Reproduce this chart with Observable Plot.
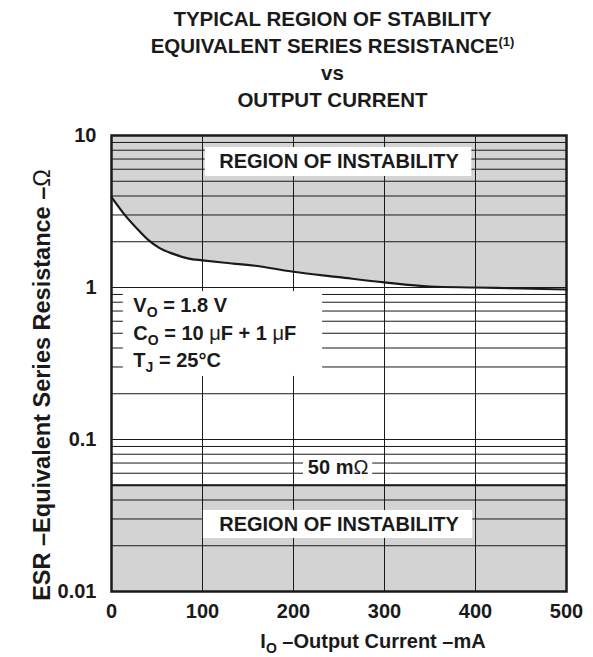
<!DOCTYPE html>
<html><head><meta charset="utf-8">
<script src="https://cdn.jsdelivr.net/npm/d3@7"></script>
<script src="https://cdn.jsdelivr.net/npm/@observablehq/plot@0.6"></script>
<style>
body{margin:0;background:#fff;font-family:"Liberation Sans",Arial,sans-serif;color:#1a1a1a}
#wrap{position:relative;width:593px;height:657px;overflow:hidden}
#title{position:absolute;left:0;top:5px;width:593px;box-sizing:border-box;padding-left:72px;text-align:center;font-weight:bold;font-size:20.5px;line-height:27px}
#title sup{font-size:13px;vertical-align:7px;line-height:0}
#chart{position:absolute;left:0;top:120px}
#ytitle{position:absolute;left:42px;top:385px;transform:translate(-50%,-50%) rotate(-90deg);white-space:nowrap;font-weight:bold;font-size:23.5px}
#xtitle{position:absolute;left:373px;top:641px;transform:translate(-50%,-50%);white-space:nowrap;font-weight:bold;font-size:20px}
#xtitle sub{font-size:14px;vertical-align:-5px;line-height:0}
.thin{font-weight:normal}
</style></head>
<body>
<div id="wrap">
  <div id="title">TYPICAL REGION OF STABILITY<br>EQUIVALENT SERIES RESISTANCE<sup>(1)</sup><br>vs<br>OUTPUT CURRENT</div>
  <div id="chart"></div>
  <div id="ytitle">ESR –Equivalent Series Resistance –<span class="thin">Ω</span></div>
  <div id="xtitle">I<sub>O</sub> –Output Current –mA</div>
</div>
<script>
// ---- data ----
const currentMA = [0, 15, 30, 41, 52, 67, 85, 100, 122, 158, 200, 250, 300, 350, 400, 450, 500];
const esrOhm    = [3.93, 2.98, 2.37, 2.04, 1.83, 1.67, 1.55, 1.51, 1.46, 1.39, 1.27, 1.17, 1.08, 1.015, 1.0, 0.985, 0.97];
const esrMinOhm = 0.05;             // 50 mΩ lower stability boundary
const xDomain = [0, 500];
const yDomain = [0.01, 10];
const xTicks = [0, 100, 200, 300, 400, 500];
const yTicks = [0.01, 0.1, 1, 10];
const xGrid = [100, 200, 300, 400];
const yGrid = [0.02,0.03,0.04,0.05,0.06,0.07,0.08,0.09,0.1,0.2,0.3,0.4,0.5,0.6,0.7,0.8,0.9,1,2,3,4,5,6,7,8,9];

// annotation texts (anchor in data units: mA, Ω)
const regionText = ["REGION OF INSTABILITY", "REGION OF INSTABILITY", "50 mΩ"];
const regionX    = [250, 250, 249];
const regionY    = [6.7, 0.0276, 0.0655];
const condText   = ["V_O = 1.8 V", "C_O = 10 μF + 1 μF", "T_J = 25°C"];
const condX      = [24, 24, 24];
const condY      = [0.76, 0.50, 0.33];
// white label boxes (data units)
const boxX1 = [103, 101, 211, 13];
const boxX2 = [396, 397, 287, 232];
const boxY1 = [5.37, 0.0223, 0.0516, 0.26];
const boxY2 = [8.34, 0.0341, 0.0761, 0.94];

// ---- build ----
const curve = currentMA.map((x, i) => ({x, y: esrOhm[i]}));
const lowBand = xDomain.map(x => ({x, y1: yDomain[0], y2: esrMinOhm}));
const regions = regionText.map((t, i) => ({t, x: regionX[i], y: regionY[i]}));
const conds = condText.map((t, i) => ({t, x: condX[i], y: condY[i]}));
const boxes = boxX1.map((x1, i) => ({x1, x2: boxX2[i], y1: boxY1[i], y2: boxY2[i]}));
const ink = "#1a1a1a";

const plot = Plot.plot({
  width: 593, height: 537,
  marginTop: 15, marginLeft: 111, marginRight: 27, marginBottom: 66,
  style: {fontFamily: "Liberation Sans, Arial, sans-serif", fontWeight: "bold", fontSize: "20px", color: ink, background: "transparent"},
  x: {domain: xDomain, ticks: xTicks, tickSize: 0, tickPadding: 12, label: null, tickFormat: d => String(d)},
  y: {type: "log", domain: yDomain, ticks: yTicks, tickSize: 0, tickPadding: 15, label: null, tickFormat: d => String(d)},
  marks: [
    Plot.areaY(curve, {x: "x", y1: "y", y2: () => yDomain[1], fill: "#d3d3d3", curve: "monotone-x"}),
    Plot.areaY(lowBand, {x: "x", y1: "y1", y2: "y2", fill: "#d3d3d3"}),
    Plot.ruleY(yGrid, {stroke: ink, strokeWidth: 1}),
    Plot.ruleX(xGrid, {stroke: ink, strokeWidth: 1}),
    Plot.ruleY([esrMinOhm], {stroke: ink, strokeWidth: 2.2}),
    Plot.line(curve, {x: "x", y: "y", stroke: ink, strokeWidth: 2.2, curve: "monotone-x"}),
    Plot.rect(boxes, {x1: "x1", x2: "x2", y1: "y1", y2: "y2", fill: "white"}),
    Plot.text(regions, {x: "x", y: "y", text: "t", fontSize: 20, fontWeight: "bold", fill: ink}),
    Plot.text(conds, {x: "x", y: "y", text: "t", textAnchor: "start", fontSize: 20, fontWeight: "bold", fill: ink}),
    Plot.frame({stroke: ink, strokeWidth: 2.5})
  ]
});

// subscripts and thin symbols
const NS = "http://www.w3.org/2000/svg";
plot.querySelectorAll("text").forEach(el => {
  const s = el.textContent;
  if (!/[_μΩ]/.test(s) || el.querySelector("tspan")) return;
  el.textContent = "";
  const parts = s.match(/_.|μ|Ω|[^_μΩ]+/g);
  let shifted = false;
  for (const p of parts) {
    const t = document.createElementNS(NS, "tspan");
    if (p[0] === "_") {
      t.textContent = p[1];
      t.setAttribute("font-size", "14");
      t.setAttribute("dy", "5");
      shifted = true;
    } else {
      t.textContent = p;
      if (shifted) { t.setAttribute("dy", "-5"); shifted = false; }
      if (p === "μ" || p === "Ω") t.setAttribute("font-weight", "normal");
    }
    el.appendChild(t);
  }
});
document.getElementById("chart").appendChild(plot);
</script>
</body></html>
